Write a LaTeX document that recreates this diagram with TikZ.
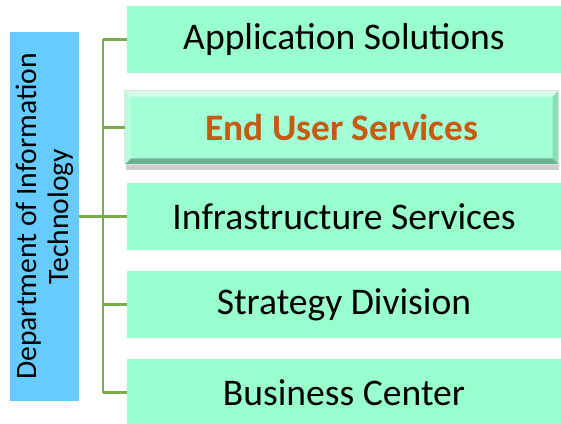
\documentclass[tikz,border=0pt]{standalone}
\usepackage{fontspec}
\setmainfont{Carlito}
\usetikzlibrary{shadows}
\definecolor{mint}{RGB}{153,255,204}
\definecolor{mintlite}{RGB}{163,255,214}
\definecolor{deptblue}{RGB}{102,204,255}
\definecolor{linkgreen}{RGB}{119,173,79}
\definecolor{eusorange}{RGB}{197,90,17}

\begin{document}
\begin{tikzpicture}
  [x=1pt,y=1pt,
   dept/.style={fill=deptblue,rotate=90,minimum width=369pt,minimum height=69pt,
     inner sep=0pt,align=center,font=\fontsize{29.6}{32}\selectfont},
   unit/.style={fill=mint,minimum width=434pt,minimum height=67pt,inner sep=0pt,
     font=\fontsize{37.6}{44}\selectfont},
   pick/.style={fill=mintlite,draw=gray!25,line width=.8pt,minimum width=433pt,
     minimum height=73pt,inner sep=0pt,font=\bfseries\fontsize{37.4}{44}\selectfont,
     text=eusorange,drop shadow={shadow xshift=1pt,shadow yshift=-6pt,opacity=.4,fill=gray}},
   link/.style={draw=linkgreen,line width=2.2pt}]
  \useasboundingbox (0,0) rectangle (561,423);

  \node[dept] (dit) at (44.5,206.5) {Department of Information\\Technology};

  \node[unit] (app)   at (344,383.5) {Application Solutions};
  \node[pick] (eus)   at (341.75,295.5) {End User Services};
  \node[unit] (infra) at (344,206.5) {Infrastructure Services};
  \node[unit] (strat) at (344,118.5) {Strategy Division};
  \node[unit] (biz)   at (344,30.5)  {Business Center};

  \fill[white!60!mint] (eus.north west) -- (eus.north east) -- ([shift={(-6,-6)}]eus.north east) -- ([shift={(6,-6)}]eus.north west) -- cycle;
  \fill[white!30!mint] (eus.north west) -- (eus.south west) -- ([shift={(6,6)}]eus.south west) -- ([shift={(6,-6)}]eus.north west) -- cycle;
  \fill[black!30!mint] (eus.south west) -- (eus.south east) -- ([shift={(-6,6)}]eus.south east) -- ([shift={(6,6)}]eus.south west) -- cycle;
  \fill[black!12!mint] (eus.north east) -- (eus.south east) -- ([shift={(-6,6)}]eus.south east) -- ([shift={(-6,-6)}]eus.north east) -- cycle;
  \draw[gray!25,line width=.8pt] (eus.south west) rectangle (eus.north east);

  \coordinate (trunk) at (103,206.5);
  \coordinate (ta) at (103,383.5);
  \coordinate (tb) at (103,30.5);

  \draw[link] (dit.south) -- (trunk);
  \draw[link] (ta) -- (tb);
  \foreach \u in {app,eus,infra,strat,biz}
    \draw[link] (\u.west -| ta) -- (\u.west);
\end{tikzpicture}
\end{document}
